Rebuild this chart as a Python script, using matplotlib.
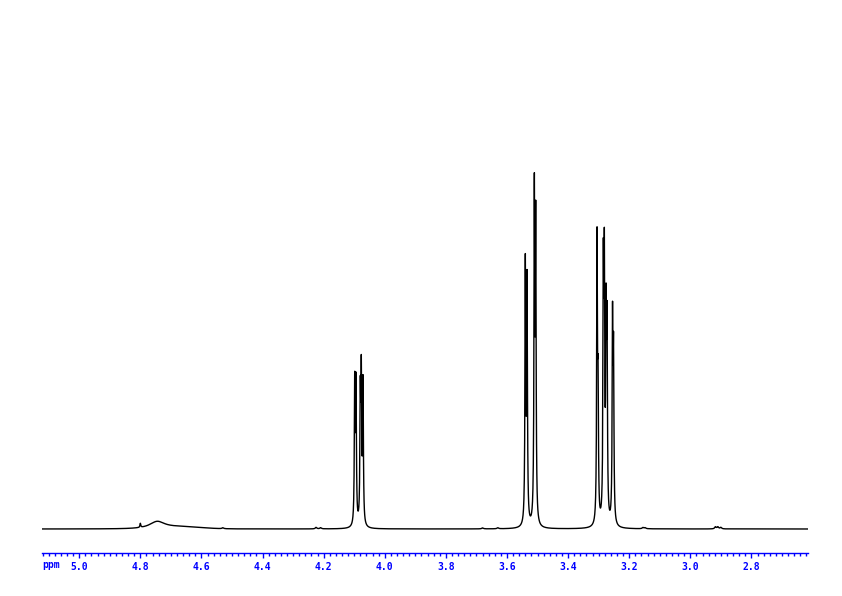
#importing necessary libraries
import numpy as np
import matplotlib
matplotlib.use("Agg")
import matplotlib.pyplot as plt
from matplotlib.ticker import MultipleLocator, FormatStrFormatter

#peak list: position (ppm), height, half width (ppm)
peak_ppm = [4.8000, 4.0985, 4.0943, 4.0802, 4.0769, 4.0714,
            3.5401, 3.5345, 3.5106, 3.5061,
            3.3054, 3.3021, 3.2848, 3.2815, 3.2759, 3.2727, 3.2547, 3.2514,
            4.2250, 4.2100, 4.5300, 3.6800, 3.6300, 3.1550, 3.1480,
            2.9180, 2.9100, 2.9000]
peak_height = [4.0, 140, 138, 122, 142, 140,
               258, 240, 325, 295,
               278, 120, 238, 240, 188, 180, 196, 160,
               1.5, 1.2, 1.0, 1.0, 1.0, 1.2, 1.0,
               2.0, 2.0, 1.5]
peak_width = [0.0015] + [0.0015] * 17 + [0.003] * 10

#broad exchangeable hump near 4.75 ppm
hump_ppm = [4.745, 4.660]
hump_height = [7.0, 2.0]
hump_width = [0.030, 0.060]

#axis settings
ppm_left = 5.122
ppm_right = 2.615
blue = "#0000ff"

#building the spectrum from the peak list
x = np.linspace(ppm_right, ppm_left, 30000)
y = np.zeros_like(x)
for p, h, w in zip(peak_ppm, peak_height, peak_width):
  y += h * w**2 / ((x - p)**2 + w**2)
#first hump is lorentzian, second is gaussian
y += hump_height[0] * hump_width[0]**2 / ((x - hump_ppm[0])**2 + hump_width[0]**2)
y += hump_height[1] * np.exp(-0.5 * ((x - hump_ppm[1]) / hump_width[1])**2)

#plotting
fig = plt.figure(figsize=(8.42, 5.96), dpi=100)
ax = fig.add_axes([42/842, (596-553)/596, (808-42)/842, 533/596])
ax.plot(x, y, color="black", linewidth=1.0)
ax.set_xlim(ppm_left, ppm_right)
ax.set_ylim(-24, 509)

for s in ["top", "left", "right"]:
  ax.spines[s].set_visible(False)
ax.spines["bottom"].set_color(blue)
ax.spines["bottom"].set_linewidth(1.0)
ax.set_yticks([])
ax.xaxis.set_major_locator(MultipleLocator(0.2))
ax.xaxis.set_minor_locator(MultipleLocator(0.02))
ax.xaxis.set_major_formatter(FormatStrFormatter("%.1f"))
ax.tick_params(axis="x", which="major", direction="out", length=3.6, width=1,
               color=blue, labelcolor=blue, labelsize=7, pad=3)
ax.tick_params(axis="x", which="minor", direction="out", length=2, width=1, color=blue)
for lab in ax.get_xticklabels():
  lab.set_family("DejaVu Sans Mono")
  lab.set_fontweight("bold")

fig.text(42/842, 1 - 565/596, "ppm", color=blue, fontsize=7,
         family="DejaVu Sans Mono", fontweight="bold", ha="left", va="center")

fig.savefig("out.png", dpi=100)
